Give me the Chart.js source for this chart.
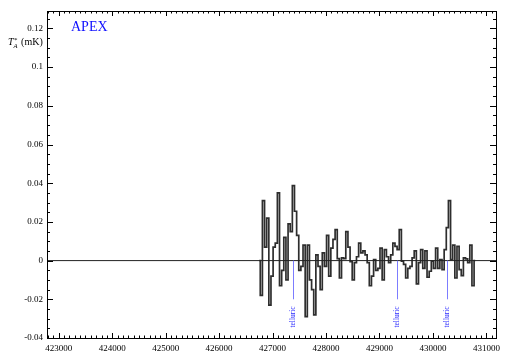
<!DOCTYPE html>
<html>
<head>
<meta charset="utf-8">
<script src="https://cdn.jsdelivr.net/npm/chart.js@4/dist/chart.umd.min.js"></script>
<style>
  html, body { margin: 0; padding: 0; background: #fff; }
  #wrap { width: 509px; height: 356px; }
</style>
</head>
<body>
<div id="wrap"><canvas id="spectrum"></canvas></div>
<script>
// channel grid of the spectrum (MHz)
const chanStart = 426790;
const chanWidth = 40;

// antenna temperature per channel (mK)
const tA = [
  -0.018, 0.031, 0.007, 0.022, -0.023, -0.008, 0.007, 0.009, 0.035, -0.013,
  -0.005, 0.012, -0.010, 0.019, 0.015, 0.0388, 0.0255, 0.013, -0.005, -0.003,
  0.008, -0.029, 0.008, -0.010, -0.015, -0.028, 0.003, -0.003, -0.015, 0.004,
  -0.003, 0.013, -0.008, 0.0065, 0.011, 0.016, 0.001, -0.009, 0.0014, 0.001,
  0.015, 0.007, -0.0005, -0.010, -0.001, 0.002, 0.009, 0.004, 0.005, 0.003,
  -0.001, -0.013, -0.008, 0.0005, -0.005, -0.004, 0.0065, -0.010, 0.0057, 0.002,
  -0.001, 0.003, 0.009, 0.0074, 0.0057, 0.016, -0.0003, -0.002, -0.009, -0.004,
  -0.003, 0.0014, 0.005, -0.012, -0.001, 0.0057, -0.004, 0.005, -0.0086, -0.0055,
  -0.0003, -0.004, 0.0065, -0.004, 0.0005, -0.0047, 0.0057, 0.017, 0.031, 0.0005,
  0.008, -0.009, 0.0074, -0.0047, -0.0078, 0.0014, 0.0009, -0.001, 0.008, -0.013
];

// telluric lines (MHz)
const telluric = [427375, 429323, 430270];

const xTicks = [423000, 424000, 425000, 426000, 427000, 428000, 429000, 430000, 431000];
const yTicks = [-0.04, -0.02, 0, 0.02, 0.04, 0.06, 0.08, 0.1, 0.12];

const xMin = 422780, xMax = 431180;
const yMin = -0.04, yMax = 0.129;

Chart.defaults.font.family = 'Liberation Serif';
Chart.defaults.color = '#000';

const specPoints = [{ x: chanStart - chanWidth, y: 0 }];
tA.forEach((v, i) => specPoints.push({ x: chanStart + i * chanWidth, y: v }));
specPoints.push({ x: chanStart + tA.length * chanWidth, y: 0 });

// ticks pointing inward on all four sides, plus labels
const frame = {
  id: 'frame',
  afterDatasetsDraw(chart) {
    const ctx = chart.ctx;
    const xs = chart.scales.x, ys = chart.scales.y;
    const y0 = ys.getPixelForValue(0), y1 = ys.getPixelForValue(-0.02);
    ctx.save();
    telluric.forEach(f => {
      const px = Math.round(xs.getPixelForValue(f)) + 0.5;
      ctx.strokeStyle = '#7c7cff';
      ctx.lineWidth = 1;
      ctx.beginPath();
      ctx.moveTo(px, y0);
      ctx.lineTo(px, y1);
      ctx.stroke();
      ctx.save();
      ctx.translate(px, y1 + 7);
      ctx.rotate(-Math.PI / 2);
      ctx.fillStyle = '#2a2aff';
      ctx.font = '7.5px "Liberation Serif"';
      ctx.textAlign = 'right';
      ctx.textBaseline = 'middle';
      ctx.fillText('telluric', 0, 0);
      ctx.restore();
    });
    ctx.restore();
  },
  afterDraw(chart) {
    const ctx = chart.ctx;
    const a = chart.chartArea;
    const xs = chart.scales.x, ys = chart.scales.y;
    ctx.save();
    ctx.strokeStyle = '#000';
    ctx.lineWidth = 1;
    ctx.strokeRect(Math.round(a.left) + 0.5, Math.round(a.top) + 0.5,
                   Math.round(a.right - a.left), Math.round(a.bottom - a.top));
    ctx.beginPath();
    for (let f = 422800; f <= xMax; f += 100) {
      const px = Math.round(xs.getPixelForValue(f)) + 0.5;
      const len = (f % 1000 === 0) ? 5 : 2.5;
      ctx.moveTo(px, a.bottom); ctx.lineTo(px, a.bottom - len);
      ctx.moveTo(px, a.top); ctx.lineTo(px, a.top + len);
    }
    for (let k = -8; k * 0.005 <= yMax; k++) {
      const v = k * 0.005;
      const py = Math.round(ys.getPixelForValue(v)) + 0.5;
      const len = (k % 4 === 0) ? 6 : 3;
      ctx.moveTo(a.left, py); ctx.lineTo(a.left + len, py);
      ctx.moveTo(a.right, py); ctx.lineTo(a.right - len, py);
    }
    ctx.stroke();

    // APEX tag
    ctx.fillStyle = '#1010ff';
    ctx.font = '14px "Liberation Serif"';
    ctx.textBaseline = 'alphabetic';
    ctx.fillText('APEX', 71, 31);

    // y axis title: T*_A (mK)
    ctx.fillStyle = '#000';
    let x = 8;
    const base = 45;
    ctx.font = 'italic 10px "Liberation Serif"';
    ctx.fillText('T', x, base);
    x += ctx.measureText('T').width;
    ctx.font = 'italic 6.5px "Liberation Serif"';
    ctx.fillText('A', x, base + 2.5);
    ctx.font = '7px "Liberation Serif"';
    ctx.fillText('*', x + 0.5, base - 3.5);
    x += 5;
    ctx.font = '10px "Liberation Serif"';
    ctx.fillText(' (mK)', x, base);
    ctx.restore();
  }
};

new Chart(document.getElementById('spectrum'), {
  type: 'line',
  data: {
    datasets: [
      {
        data: [{ x: xMin, y: 0 }, { x: xMax, y: 0 }],
        borderColor: '#222',
        borderWidth: 1,
        pointRadius: 0
      },
      {
        data: specPoints,
        stepped: 'middle',
        borderColor: '#2e2e2e',
        borderWidth: 1.7,
        pointRadius: 0
      }
    ]
  },
  options: {
    responsive: true,
    maintainAspectRatio: false,
    animation: false,
    layout: { padding: { top: 11, right: 13, left: 0, bottom: 0 } },
    plugins: { legend: { display: false }, tooltip: { enabled: false } },
    scales: {
      x: {
        type: 'linear',
        min: xMin,
        max: xMax,
        grid: { display: false, drawTicks: false },
        border: { display: false },
        afterBuildTicks: s => { s.ticks = xTicks.map(v => ({ value: v })); },
        afterFit: s => { s.height = 18; },
        ticks: {
          padding: 5,
          maxRotation: 0,
          autoSkip: false,
          font: { size: 9 },
          callback: v => String(v)
        }
      },
      y: {
        min: yMin,
        max: yMax,
        grid: { display: false, drawTicks: false },
        border: { display: false },
        afterBuildTicks: s => { s.ticks = yTicks.map(v => ({ value: v })); },
        afterFit: s => { s.width = 47; },
        ticks: {
          padding: 4,
          autoSkip: false,
          font: { size: 9 },
          callback: v => String(parseFloat(v.toFixed(3)))
        }
      }
    }
  },
  plugins: [frame]
});
</script>
</body>
</html>
